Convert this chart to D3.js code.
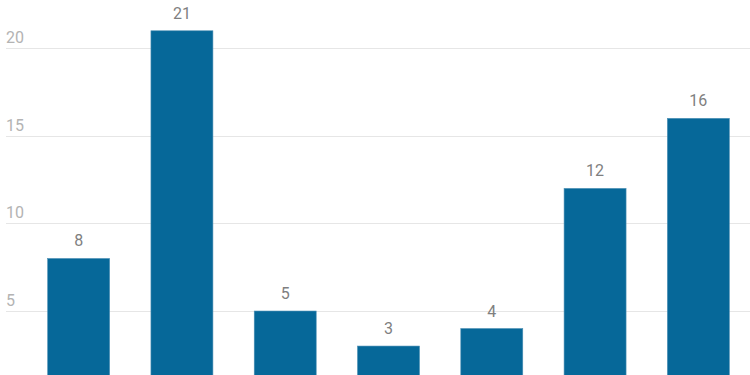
<!DOCTYPE html>
<html>
<head>
<meta charset="utf-8">
<script src="https://cdn.jsdelivr.net/npm/d3@7.9.0/dist/d3.min.js"></script>
<style>
  html, body { margin: 0; padding: 0; background: #fff; }
  svg { display: block; font-family: Roboto, 'Noto Sans', sans-serif; }
</style>
</head>
<body>
<div id="chart"></div>
<script>
// data
const categories = ['A', 'B', 'C', 'D', 'E', 'F', 'G'];
const values = [8, 21, 5, 3, 4, 12, 16];
const yTicks = [5, 10, 15, 20];

const width = 750;
const height = 375;

const svg = d3.select('#chart')
  .append('svg')
  .attr('width', width)
  .attr('height', height);

const x = d3.scaleBand()
  .domain(categories)
  .range([27, 750])
  .paddingInner(0.4)
  .paddingOuter(0.2);

// zero line sits below the visible area
const y = d3.scaleLinear()
  .domain([0, 20])
  .range([398.6, 48.3]);

// gridlines
svg.append('g')
  .attr('class', 'grid')
  .selectAll('line')
  .data(yTicks)
  .join('line')
  .attr('x1', 6)
  .attr('x2', width)
  .attr('y1', d => Math.round(y(d)) + 0.5)
  .attr('y2', d => Math.round(y(d)) + 0.5)
  .attr('stroke', '#e6e6e6')
  .attr('stroke-width', 1);

// tick labels
svg.append('g')
  .selectAll('text')
  .data(yTicks)
  .join('text')
  .attr('x', 6)
  .attr('y', d => y(d) - 5)
  .attr('fill', '#b3b3b3')
  .attr('font-size', 16)
  .text(d => d);

// bars
svg.append('g')
  .selectAll('rect')
  .data(values)
  .join('rect')
  .attr('x', (d, i) => x(categories[i]))
  .attr('y', d => y(d))
  .attr('width', x.bandwidth())
  .attr('height', d => y(0) - y(d))
  .attr('fill', '#066899')
  .attr('stroke', '#4b8fb4')
  .attr('stroke-width', 0.6);

// value labels
svg.append('g')
  .selectAll('text')
  .data(values)
  .join('text')
  .attr('x', (d, i) => x(categories[i]) + x.bandwidth() / 2)
  .attr('y', d => y(d) - 12)
  .attr('text-anchor', 'middle')
  .attr('fill', '#7f7f7f')
  .attr('font-size', 16)
  .text(d => d);
</script>
</body>
</html>
